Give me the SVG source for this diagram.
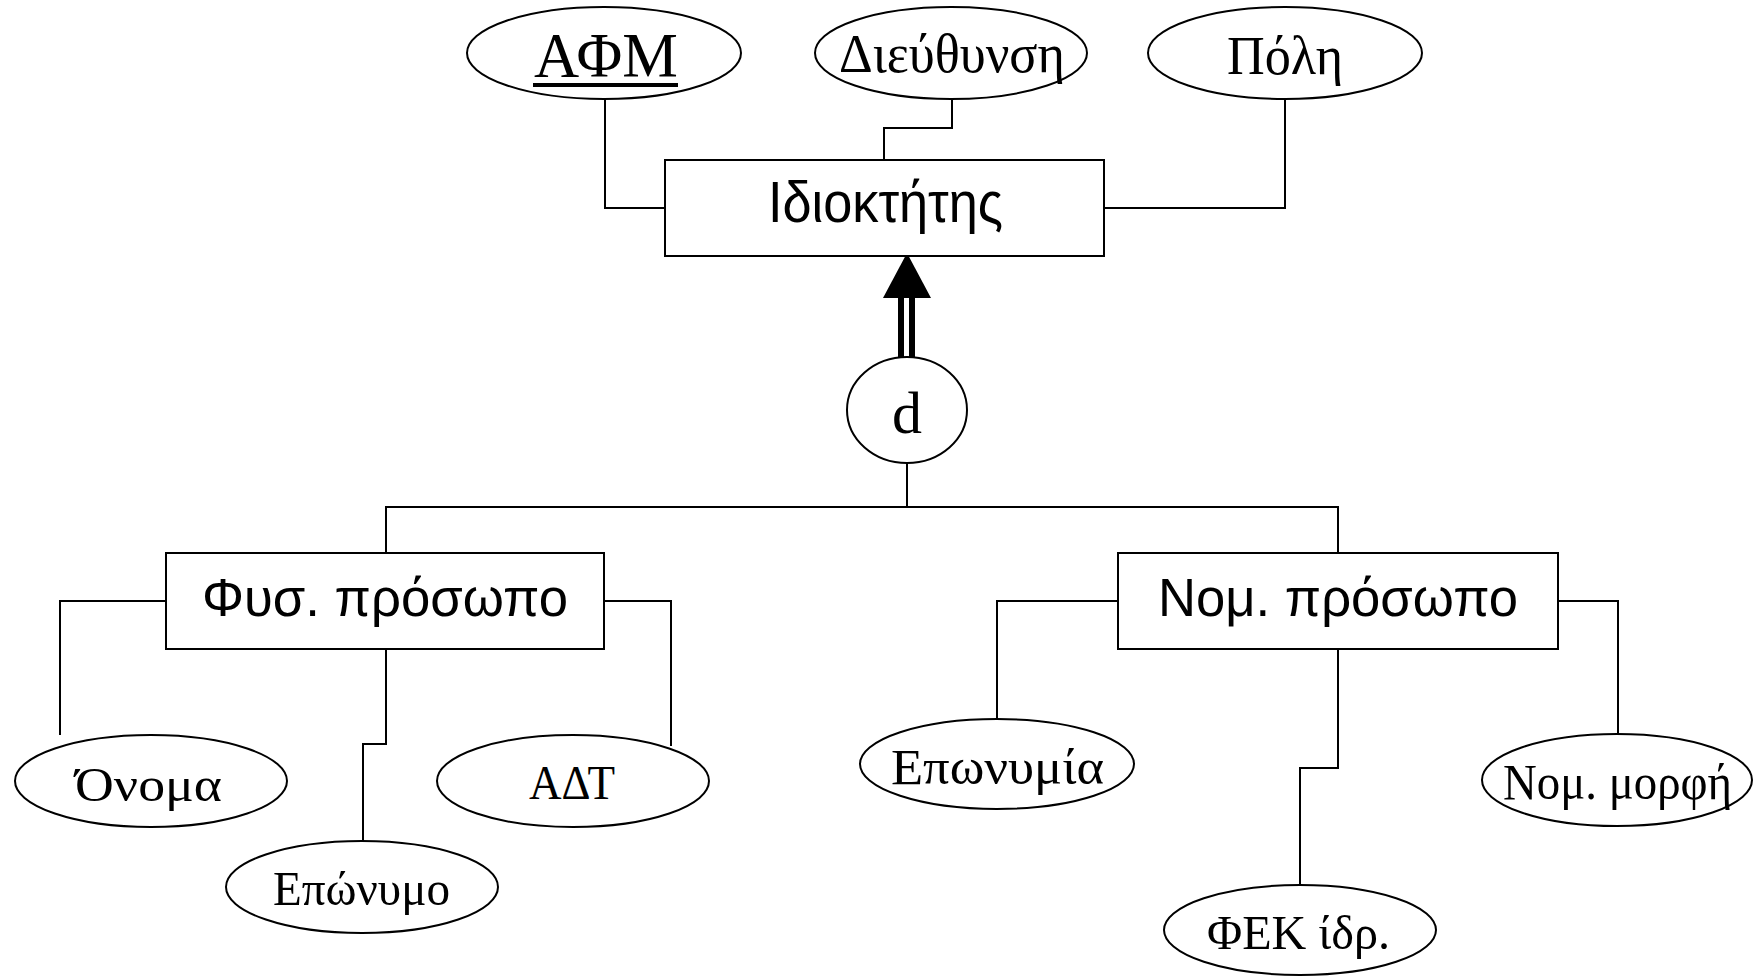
<svg xmlns="http://www.w3.org/2000/svg" width="1753" height="976" viewBox="0 0 1753 976">
<style>
.bg{fill:#ffffff}
.shape{fill:#ffffff;stroke:#000000;stroke-width:2}
.conn{fill:none;stroke:#000000;stroke-width:2}
.serif{font-family:"Liberation Serif","Times New Roman",serif;fill:#000000}
.sans{font-family:"Liberation Sans",Arial,sans-serif;fill:#000000}
</style>
<rect class="bg" x="0" y="0" width="1753" height="976"/>
<g id="connectors">
  <path class="conn" d="M605 99 V208 H665"/>
  <path class="conn" d="M952 99 V128 H884 V160"/>
  <path class="conn" d="M1285 99 V208 H1104"/>
  <path class="conn" d="M907 462 V507"/>
  <path class="conn" d="M386 553 V507 H1338 V553"/>
  <path class="conn" d="M166 601 H60 V735"/>
  <path class="conn" d="M386 649 V744 H363 V841"/>
  <path class="conn" d="M604 601 H671 V746"/>
  <path class="conn" d="M1118 601 H997 V719"/>
  <path class="conn" d="M1338 649 V768 H1300 V885"/>
  <path class="conn" d="M1558 601 H1618 V735"/>
  <g id="isa-arrow">
    <rect x="898" y="296" width="6" height="62" fill="#000000"/>
    <rect x="909" y="296" width="6" height="62" fill="#000000"/>
    <polygon points="907,253 883,298 931,298" fill="#000000"/>
  </g>
</g>
<g id="idioktitis">
  <rect class="shape" x="665" y="160" width="439" height="96"/>
  <text class="sans" x="768" y="222" font-size="58" textLength="235" lengthAdjust="spacingAndGlyphs">Ιδιοκτήτης</text>
</g>
<g id="afm">
  <ellipse class="shape" cx="604" cy="53" rx="137" ry="46"/>
  <text class="serif" x="534" y="77" font-size="64" textLength="144" lengthAdjust="spacingAndGlyphs">ΑΦΜ</text>
  <rect x="533" y="83" width="145" height="4" fill="#000000"/>
</g>
<g id="dieythynsi">
  <ellipse class="shape" cx="951" cy="53" rx="136" ry="46"/>
  <text class="serif" x="839" y="72" font-size="54" textLength="226" lengthAdjust="spacingAndGlyphs">Διεύθυνση</text>
</g>
<g id="poli">
  <ellipse class="shape" cx="1285" cy="53" rx="137" ry="46"/>
  <text class="serif" x="1227" y="74" font-size="54" textLength="116" lengthAdjust="spacingAndGlyphs">Πόλη</text>
</g>
<g id="disjoint">
  <ellipse class="shape" cx="907" cy="410" rx="60" ry="53"/>
  <text class="serif" x="892" y="433" font-size="60" textLength="30" lengthAdjust="spacingAndGlyphs">d</text>
</g>
<g id="fys-prosopo">
  <rect class="shape" x="166" y="553" width="438" height="96"/>
  <text class="sans" x="202" y="616" font-size="54" textLength="366" lengthAdjust="spacingAndGlyphs">Φυσ. πρόσωπο</text>
</g>
<g id="nom-prosopo">
  <rect class="shape" x="1118" y="553" width="440" height="96"/>
  <text class="sans" x="1158" y="616" font-size="54" textLength="360" lengthAdjust="spacingAndGlyphs">Νομ. πρόσωπο</text>
</g>
<g id="onoma">
  <ellipse class="shape" cx="151" cy="781" rx="136" ry="46"/>
  <text class="serif" x="75" y="801" font-size="49" textLength="147" lengthAdjust="spacingAndGlyphs">Όνομα</text>
</g>
<g id="eponymo">
  <ellipse class="shape" cx="362" cy="887" rx="136" ry="46"/>
  <text class="serif" x="273" y="905" font-size="49" textLength="177" lengthAdjust="spacingAndGlyphs">Επώνυμο</text>
</g>
<g id="adt">
  <ellipse class="shape" cx="573" cy="781" rx="136" ry="46"/>
  <text class="serif" x="529" y="799" font-size="49" textLength="86" lengthAdjust="spacingAndGlyphs">ΑΔΤ</text>
</g>
<g id="eponymia">
  <ellipse class="shape" cx="997" cy="764" rx="137" ry="45"/>
  <text class="serif" x="891" y="784" font-size="50" textLength="213" lengthAdjust="spacingAndGlyphs">Επωνυμία</text>
</g>
<g id="fek">
  <ellipse class="shape" cx="1300" cy="930" rx="136" ry="45"/>
  <text class="serif" x="1207" y="949" font-size="49" textLength="183" lengthAdjust="spacingAndGlyphs">ΦΕΚ ίδρ.</text>
</g>
<g id="nom-morfi">
  <ellipse class="shape" cx="1617" cy="780" rx="135" ry="46"/>
  <text class="serif" x="1503" y="799" font-size="50" textLength="229" lengthAdjust="spacingAndGlyphs">Νομ. μορφή</text>
</g>
</svg>
